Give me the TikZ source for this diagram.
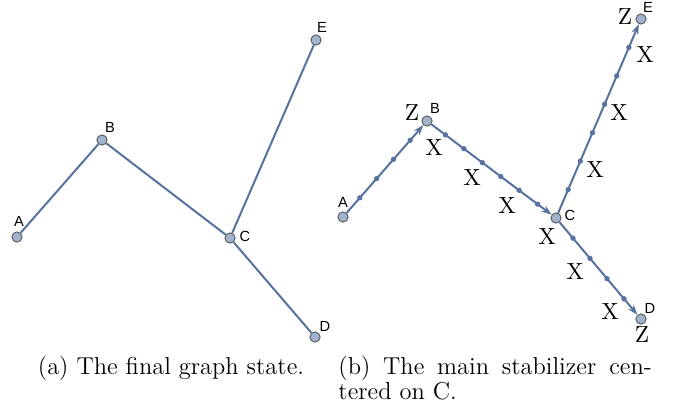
\documentclass[tikz,border=0pt]{standalone}
\usepackage{fontspec}
\newfontfamily\lab{Liberation Sans}
\usetikzlibrary{arrows.meta,calc}
\definecolor{edgec}{RGB}{88,114,160}
\definecolor{nodef}{RGB}{160,180,206}
\definecolor{noded}{RGB}{85,85,85}
\begin{document}
\begin{tikzpicture}[x=0.45pt,y=-0.45pt,
 vert/.style={circle,fill=nodef,draw=noded,line width=0.4pt,inner sep=0,minimum size=4.6pt},
 gline/.style={draw=edgec,line width=0.9pt},
 arr/.style={gline,-{Stealth[length=4.6pt,width=3.2pt]}},
 lbl/.style={font=\lab\fontsize{6.6}{7}\selectfont,inner sep=0},
 optext/.style={font=\fontsize{10.5}{12}\selectfont,inner sep=0},
 captext/.style={font=\fontsize{11}{13}\selectfont,inner sep=0},
 smalldot/.style={fill=edgec}]
\useasboundingbox (0,0) rectangle (680,412);
% left graph
\node[vert] (a1) at (17,237) {};
\node[vert] (b1) at (102,140) {};
\node[vert] (c1) at (230,238) {};
\node[vert] (d1) at (315,337) {};
\node[vert] (e1) at (316,40) {};
\draw[gline] (a1) -- (b1);
\draw[gline] (b1) -- (c1);
\draw[gline] (c1) -- (d1);
\draw[gline] (c1) -- (e1);
\node[lbl] (la1) at (19,221) {A};
\node[lbl] (lb1) at (110,127) {B};
\node[lbl] (lc1) at (245,236) {C};
\node[lbl] (ld1) at (325,326) {D};
\node[lbl] (le1) at (322,27) {E};
% right graph
\node[vert] (a2) at (343,217) {};
\node[vert] (b2) at (427,121) {};
\node[vert] (c2) at (556,218) {};
\node[vert] (d2) at (641,319) {};
\node[vert] (e2) at (641,19) {};
\draw[arr] (a2) -- (b2);
\draw[arr] (b2) -- (c2);
\draw[arr] (c2) -- (d2);
\draw[arr] (c2) -- (e2);
\foreach \t in {0.2,0.4,0.6,0.8} {
  \fill[smalldot] ($(a2)!\t!(b2)$) circle (1.2pt);
  \fill[smalldot] ($(c2)!\t!(d2)$) circle (1.2pt);
}
\foreach \k in {1,...,6} {
  \fill[smalldot] ($(b2)!{\k/7}!(c2)$) circle (1.2pt);
  \fill[smalldot] ($(c2)!{\k/7}!(e2)$) circle (1.2pt);
}
\node[lbl] (la2) at (343,202) {A};
\node[lbl] (lb2) at (435,108) {B};
\node[lbl] (lc2) at (570,215) {C};
\node[lbl] (ld2) at (650,308) {D};
\node[lbl] (le2) at (648,7) {E};
\node[optext] (zb) at (412,113) {Z};
\node[optext] (ze) at (625,17) {Z};
\node[optext] (zd) at (642,335) {Z};
\node[optext] (x1) at (434,148) {X};
\node[optext] (x2) at (472,178) {X};
\node[optext] (x3) at (507,206) {X};
\node[optext] (x4) at (547,237) {X};
\node[optext] (x5) at (575,272) {X};
\node[optext] (x6) at (610,312) {X};
\node[optext] (x7) at (645,55) {X};
\node[optext] (x8) at (619,113) {X};
\node[optext] (x9) at (595,170) {X};
% captions
\node[captext,anchor=base] (capa) at (171,374) {(a) The final graph state.};
\node[captext,anchor=base west] (capb1) at (338,374) {\makebox[141pt][s]{(b) The main stabilizer cen-}};
\node[captext,anchor=base west] (capb2) at (338,399) {tered on C.};
\end{tikzpicture}
\end{document}
